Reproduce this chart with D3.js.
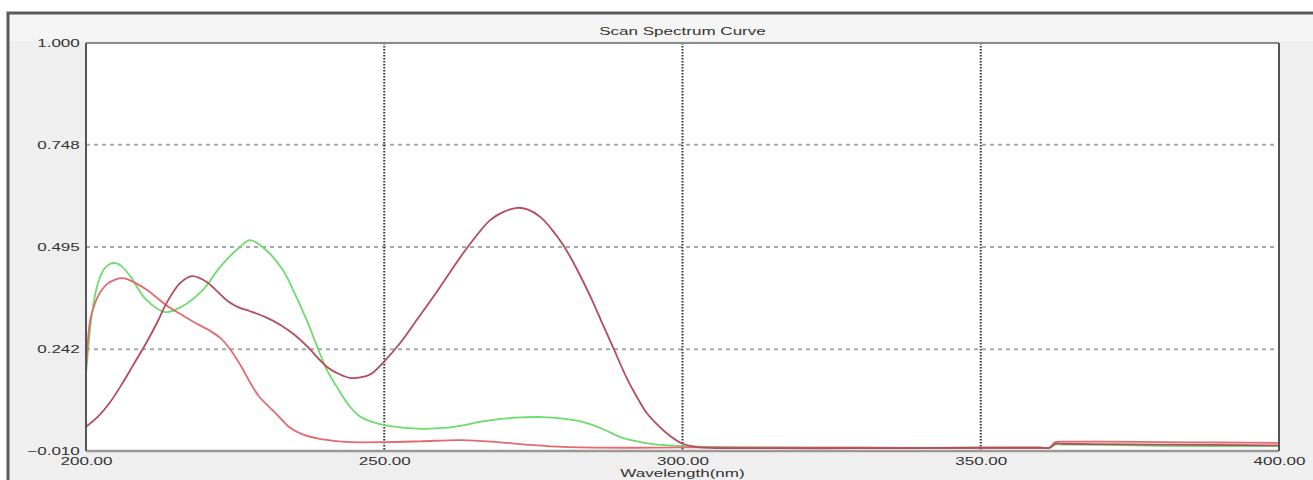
<!doctype html>
<html lang=en>

<head>
  <meta charset=utf-8>
  <title>Scan Spectrum Curve</title>
  <style>
    body { margin: 0; background: #fff; }
    text { font-family: "Liberation Sans", Arial, sans-serif; font-size: 11px; fill: #333; }
  </style>
</head>

<body>
  <svg></svg>
  <script src="https://cdn.jsdelivr.net/npm/d3@7"></script>
  <script>
    // tick labels
    var yTicks = [1.000, 0.748, 0.495, 0.242, -0.010];
    var xTicks = [200, 250, 300, 350, 400];

    // green spectrum
    var greenWl = [200, 201, 202, 203, 204, 205, 206, 207.5, 210, 213.3, 216, 219.6, 222.5, 225.8, 227.5, 230, 233, 234.7, 237, 240.4, 242, 244.3, 246, 248, 250, 253, 256.5, 260, 263, 266, 270, 273, 276.5, 280, 284, 287, 289.5, 292, 295, 300, 310, 330, 350, 360, 361.5, 362.5, 364, 370, 380, 400];
    var greenAbs = [0.18, 0.33, 0.405, 0.44, 0.453, 0.455, 0.447, 0.421, 0.366, 0.334, 0.347, 0.389, 0.446, 0.495, 0.512, 0.49, 0.438, 0.389, 0.314, 0.19, 0.15, 0.099, 0.075, 0.062, 0.054, 0.048, 0.045, 0.047, 0.053, 0.062, 0.07, 0.073, 0.074, 0.07, 0.059, 0.042, 0.025, 0.015, 0.007, 0.002, -0.001, -0.002, -0.002, -0.002, -0.002, 0.006, 0.006, 0.005, 0.003, 0.002];

    // light red spectrum
    var redWl = [200, 200.7, 201.5, 202.3, 203.5, 205, 206.2, 208, 210.2, 212, 214, 216.3, 218.6, 220.5, 222.5, 224, 226, 227.5, 229, 231.7, 234, 236, 238.8, 241.5, 244.3, 250, 256, 263, 269, 274.5, 280, 290, 300, 330, 360, 361.5, 362.5, 364, 370, 380, 390, 400];
    var redAbs = [0.186, 0.314, 0.355, 0.381, 0.403, 0.415, 0.418, 0.408, 0.389, 0.368, 0.345, 0.325, 0.305, 0.29, 0.27, 0.245, 0.2, 0.16, 0.125, 0.085, 0.05, 0.033, 0.021, 0.015, 0.012, 0.012, 0.014, 0.017, 0.012, 0.005, 0.0, -0.002, -0.001, -0.002, -0.002, -0.002, 0.012, 0.013, 0.013, 0.012, 0.011, 0.01];

    // dark red spectrum
    var maroonWl = [200, 202, 204, 206, 208, 210, 212, 213.5, 215.8, 217.8, 220.3, 222, 223.7, 225.5, 227.5, 230, 232.6, 235, 237, 240.4, 242.5, 244.3, 246, 247.7, 250, 252.7, 255, 258.2, 261, 264, 267.8, 270, 272.3, 274, 276.2, 278, 280, 282.3, 284.6, 286.5, 288.4, 290.8, 292.5, 294, 296, 297.5, 300, 303, 310, 330, 350, 360, 361.5, 362.5, 364, 370, 380, 400];
    var maroonAbs = [0.05, 0.075, 0.11, 0.155, 0.205, 0.255, 0.31, 0.356, 0.406, 0.423, 0.408, 0.385, 0.362, 0.346, 0.336, 0.322, 0.302, 0.277, 0.25, 0.198, 0.18, 0.171, 0.172, 0.18, 0.212, 0.258, 0.305, 0.371, 0.432, 0.495, 0.562, 0.582, 0.592, 0.588, 0.569, 0.54, 0.5, 0.44, 0.371, 0.308, 0.245, 0.166, 0.12, 0.084, 0.052, 0.032, 0.008, -0.001, -0.003, -0.003, -0.002, -0.002, -0.002, 0.008, 0.008, 0.007, 0.006, 0.004];

    var width = 1313;
    var height = 480;
    var plotL = 86, plotR = 1279, plotT = 43, plotB = 451;
    var sx = 1.55; // labels in the original are stretched horizontally

    var svg = d3.select("svg")
      .attr("width", width)
      .attr("height", height);

    var xScale = d3.scaleLinear().domain([200, 400]).range([plotL, plotR]);
    var yScale = d3.scaleLinear().domain([-0.010, 1.000]).range([plotB, plotT]);

    // outer panel
    svg.append("rect")
      .attr("x", 8).attr("y", 13)
      .attr("width", width).attr("height", height)
      .attr("fill", "#efefef")
      .attr("stroke", "#5a5a5a")
      .attr("stroke-width", 3);

    svg.append("rect")
      .attr("x", 10).attr("y", 15)
      .attr("width", width).attr("height", 26)
      .attr("fill", "#f5f5f5");

    // plot area
    svg.append("rect")
      .attr("x", plotL).attr("y", plotT)
      .attr("width", plotR - plotL).attr("height", plotB - plotT)
      .attr("fill", "#fff");

    svg.append("clipPath").attr("id", "plot")
      .append("rect")
      .attr("x", plotL).attr("y", plotT - 2)
      .attr("width", plotR - plotL).attr("height", plotB - plotT + 2);

    // grid
    svg.append("g")
      .selectAll("line")
      .data(yTicks.slice(1, 4))
      .join("line")
      .attr("x1", plotL).attr("x2", plotR)
      .attr("y1", d => yScale(d)).attr("y2", d => yScale(d))
      .attr("stroke", "#a8a8a8")
      .attr("stroke-width", 2)
      .attr("stroke-dasharray", "4,4");

    svg.append("g")
      .selectAll("line")
      .data(xTicks.slice(1, 4))
      .join("line")
      .attr("x1", d => xScale(d)).attr("x2", d => xScale(d))
      .attr("y1", plotT).attr("y2", plotB)
      .attr("stroke", "#333")
      .attr("stroke-width", 2)
      .attr("stroke-dasharray", "1.5,1.5");

    // curves
    var line = d3.line()
      .x(d => xScale(d[0]))
      .y(d => yScale(d[1]))
      .curve(d3.curveCatmullRom.alpha(0.5));

    var series = [
      { wl: greenWl, abs: greenAbs, color: "#6ddc6d" },
      { wl: redWl, abs: redAbs, color: "#e36a6e" },
      { wl: maroonWl, abs: maroonAbs, color: "#b44c5e" }
    ];

    svg.append("g")
      .attr("clip-path", "url(#plot)")
      .selectAll("path")
      .data(series)
      .join("path")
      .attr("fill", "none")
      .attr("stroke", d => d.color)
      .attr("stroke-width", 1.8)
      .attr("d", d => line(d.wl.map((w, i) => [w, d.abs[i]])));

    // frame
    svg.append("line").attr("x1", plotL).attr("x2", plotR).attr("y1", plotT).attr("y2", plotT)
      .attr("stroke", "#8a8a8a").attr("stroke-width", 2);
    svg.append("line").attr("x1", plotL).attr("x2", plotR).attr("y1", plotB).attr("y2", plotB)
      .attr("stroke", "#999").attr("stroke-width", 2.5);
    svg.append("line").attr("x1", plotL).attr("x2", plotL).attr("y1", plotT).attr("y2", plotB)
      .attr("stroke", "#555").attr("stroke-width", 2);
    svg.append("line").attr("x1", plotR).attr("x2", plotR).attr("y1", plotT).attr("y2", plotB)
      .attr("stroke", "#555").attr("stroke-width", 2);

    // axes
    var yAxis = svg.append("g")
      .attr("transform", "translate(" + plotL + ",0)")
      .call(d3.axisLeft(yScale).tickValues(yTicks).tickFormat(d3.format(".3f")).tickSize(0));
    yAxis.select(".domain").remove();
    yAxis.selectAll("text")
      .attr("x", -4)
      .attr("transform", "scale(" + sx + ",1)");
    yAxis.attr("font-family", null).attr("font-size", null);

    var xAxis = svg.append("g")
      .attr("transform", "translate(0," + plotB + ")")
      .call(d3.axisBottom(xScale).tickValues(xTicks).tickFormat(d3.format(".2f")).tickSize(0).tickPadding(6));
    xAxis.select(".domain").remove();
    xAxis.selectAll("text")
      .attr("transform", "scale(" + sx + ",1)");
    xAxis.attr("font-family", null).attr("font-size", null);

    // titles
    svg.append("text")
      .attr("text-anchor", "middle")
      .attr("transform", "translate(" + (plotL + plotR) / 2 + ",35) scale(" + sx + ",1)")
      .text("Scan Spectrum Curve");

    svg.append("text")
      .attr("text-anchor", "middle")
      .attr("transform", "translate(" + (plotL + plotR) / 2 + ",477) scale(" + sx + ",1)")
      .text("Wavelength(nm)");
  </script>
</body>

</html>
